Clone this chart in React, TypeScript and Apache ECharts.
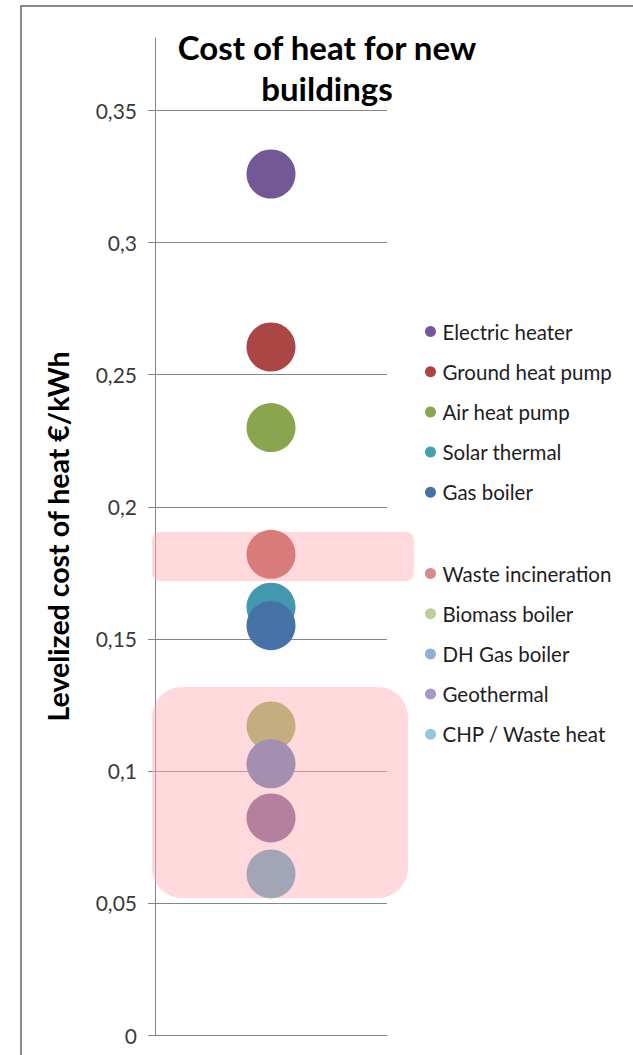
import React, { useEffect, useRef } from "react";
import * as echarts from "echarts";

const titleText = "Cost of heat for new\nbuildings";
const yAxisName = "Levelized cost of heat €/kWh";

const groupA = ["Electric heater", "Ground heat pump", "Air heat pump", "Solar thermal", "Gas boiler"];
const groupB = ["Waste incineration", "Biomass boiler", "DH Gas boiler", "Geothermal", "CHP / Waste heat"];
const technologies = [...groupA, ...groupB];
const costs = [0.326, 0.2605, 0.23, 0.162, 0.155, 0.182, 0.117, 0.1027, 0.0822, 0.061];
const bubbleColors = ["#735796", "#aa4644", "#89a54e", "#4298af", "#4572a7", "#d87b7a", "#c4ae80", "#a38fb0", "#b5809e", "#a1a5b5"];
const legendColors = ["#75589c", "#ae4341", "#8aa54c", "#41a0b4", "#4472a8", "#d98a8a", "#b9d09a", "#94acd8", "#a898c4", "#93c8da"];
const yTicks = [0, 0.05, 0.1, 0.15, 0.2, 0.25, 0.3, 0.35];

const FONT = "Lato, 'Noto Sans', sans-serif";

export default function App() {
  const ref = useRef<HTMLDivElement>(null);
  useEffect(() => {
    document.body.style.margin = "0";
    const chart = echarts.init(ref.current!, null, { renderer: "svg" });
    const legendItems = (names: string[], offset: number) =>
      names.map((n, i) => ({ name: n, itemStyle: { color: legendColors[offset + i] } }));
    const legendBase = {
      orient: "vertical" as const,
      left: 420,
      icon: "circle",
      itemWidth: 14,
      itemHeight: 11,
      itemGap: 19.2,
      selectedMode: false,
      textStyle: { fontFamily: FONT, fontSize: 20.5, color: "#1e1e1e", lineHeight: 20 },
    };
    chart.setOption({
      animation: false,
      backgroundColor: "#ffffff",
      grid: { left: 155, width: 232, top: 38, bottom: 20 },
      xAxis: {
        type: "category",
        data: [""],
        axisLine: { show: true, lineStyle: { color: "#868686", width: 1 } },
        axisTick: { show: false },
        axisLabel: { show: false },
      },
      yAxis: {
        type: "value",
        min: 0,
        max: 0.3775,
        interval: 0.05,
        name: yAxisName,
        nameLocation: "middle",
        nameRotate: 90,
        nameGap: 83,
        nameTextStyle: { fontFamily: FONT, fontSize: 28.5, fontWeight: "bold", color: "#000" },
        axisLine: { show: true, lineStyle: { color: "#868686", width: 1 } },
        axisTick: { show: true, length: 7, lineStyle: { color: "#868686" }, customValues: yTicks },
        splitLine: { show: true, lineStyle: { color: "#868686", width: 1 } },
        axisLabel: {
          customValues: yTicks,
          margin: 18,
          fontFamily: FONT,
          fontSize: 21,
          color: "#3a3a3a",
          formatter: (v: number) => String(Math.round(v * 100) / 100).replace(".", ","),
        },
      },
      legend: [
        { ...legendBase, top: 316, data: legendItems(groupA, 0) },
        { ...legendBase, top: 558, data: legendItems(groupB, 5) },
      ],
      graphic: [
        {
          type: "rect",
          z: 1,
          shape: { x: 21, y: 6, width: 700, height: 1100 },
          style: { fill: "none", stroke: "#8a8a8a", lineWidth: 2 },
          silent: true,
        },
        {
          type: "rect",
          z: 1,
          shape: { x: 152, y: 532, width: 262, height: 49, r: 8 },
          style: { fill: "rgba(255,170,175,0.45)" },
          silent: true,
        },
        {
          type: "rect",
          z: 1,
          shape: { x: 152, y: 687, width: 256, height: 211, r: 30 },
          style: { fill: "rgba(255,170,175,0.45)" },
          silent: true,
        },
        {
          type: "text",
          z: 5,
          x: 327,
          y: 67.5,
          style: {
            text: titleText,
            fontFamily: FONT,
            fontSize: 33,
            fontWeight: "bold",
            fill: "#000",
            align: "center",
            verticalAlign: "middle",
            lineHeight: 41,
          },
        },
      ],
      series: technologies.map((name, i) => ({
        name,
        type: "scatter",
        z: 3,
        symbol: "circle",
        symbolSize: 49,
        itemStyle: { color: bubbleColors[i], opacity: 1 },
        data: [[0, costs[i]]],
      })),
    });
    return () => chart.dispose();
  }, []);
  return <div ref={ref} style={{ width: 633, height: 1055 }} />;
}
